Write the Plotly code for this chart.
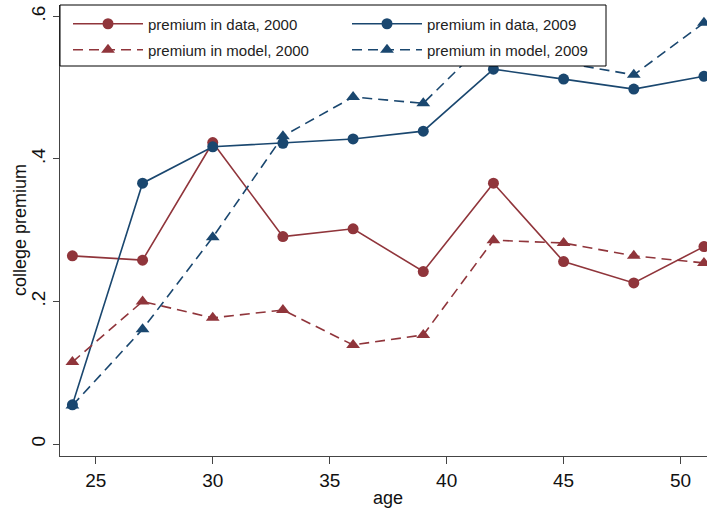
import plotly.graph_objects as go

age = [24, 27, 30, 33, 36, 39, 42, 45, 48, 51]
data_2000 = [0.264, 0.258, 0.423, 0.291, 0.302, 0.242, 0.366, 0.256, 0.226, 0.277]
model_2000 = [0.115, 0.200, 0.177, 0.188, 0.139, 0.153, 0.286, 0.282, 0.264, 0.254]
data_2009 = [0.055, 0.366, 0.417, 0.422, 0.428, 0.439, 0.526, 0.512, 0.498, 0.516]
model_2009 = [0.054, 0.161, 0.290, 0.432, 0.487, 0.478, 0.575, 0.535, 0.518, 0.591]

y_ticks = [0, 0.2, 0.4, 0.6]
y_tick_labels = ["0", ".2", ".4", ".6"]
x_ticks = [25, 30, 35, 40, 45, 50]

RED = "#90353b"
BLUE = "#1a476f"

# plot area in pixels
L, T, B, W, H = 60, 5, 54, 707, 510
PW, PH = W - L, H - T - B


def px_x(p):
    return (p - L) / PW


def px_y(p):
    return (H - B - p) / PH


fig = go.Figure()
series = [
    ("premium in data, 2000", data_2000, RED, "solid", "circle", 11, "legend"),
    ("premium in data, 2009", data_2009, BLUE, "solid", "circle", 11, "legend"),
    ("premium in model, 2000", model_2000, RED, "10px,6px", "triangle-up", 12, "legend2"),
    ("premium in model, 2009", model_2009, BLUE, "10px,6px", "triangle-up", 12, "legend2"),
]
for name, vals, col, dash, sym, sz, lg in series:
    fig.add_trace(go.Scatter(
        x=age, y=vals, name=name, mode="lines+markers",
        line=dict(color=col, width=1.6, dash=dash),
        marker=dict(color=col, symbol=sym, size=sz),
        cliponaxis=False, legend=lg,
    ))

legend_common = dict(
    orientation="h", xanchor="left", yanchor="middle",
    entrywidth=194, entrywidthmode="pixels", itemwidth=70,
    bgcolor="rgba(0,0,0,0)", borderwidth=0,
    font=dict(size=15, color="#222"), traceorder="normal",
)

fig.update_layout(
    width=W, height=H,
    margin=dict(l=L, r=0, t=T, b=B),
    paper_bgcolor="white", plot_bgcolor="white",
    font=dict(family="Liberation Sans, Arial, sans-serif", color="black", size=15),
    showlegend=True,
    legend=dict(x=px_x(68), y=px_y(24), **legend_common),
    legend2=dict(x=px_x(68), y=px_y(50), **legend_common),
    shapes=[dict(
        type="rect", xref="paper", yref="paper",
        x0=0, x1=px_x(606), y0=px_y(66), y1=px_y(5),
        fillcolor="white", line=dict(color="black", width=1), layer="above",
    )],
    annotations=[
        dict(text="college premium", xref="paper", yref="paper",
             x=px_x(20), y=px_y(230), xanchor="center", yanchor="middle",
             textangle=-90, showarrow=False, font=dict(size=18, color="#111")),
        dict(text="age", xref="paper", yref="paper",
             x=px_x(388), y=px_y(498), xanchor="center", yanchor="middle",
             showarrow=False, font=dict(size=18, color="#111")),
    ],
    xaxis=dict(
        range=[23.47, 51.13], tickvals=x_ticks, ticks="outside", ticklen=7,
        tickcolor="#444", showline=True, linecolor="#444", linewidth=1.2,
        showgrid=False, zeroline=False, tickfont=dict(size=19, color="#111"),
    ),
    yaxis=dict(
        range=[-0.01684, 0.616], tickvals=y_ticks, ticktext=y_tick_labels,
        tickangle=-90, ticks="outside", ticklen=6, tickcolor="#444",
        showline=True, linecolor="#444", linewidth=1.2,
        showgrid=False, zeroline=False, tickfont=dict(size=19, color="#111"),
    ),
)

fig.write_html("out.html", config={"displayModeBar": False},
               post_script="document.body.style.margin='0px';")
